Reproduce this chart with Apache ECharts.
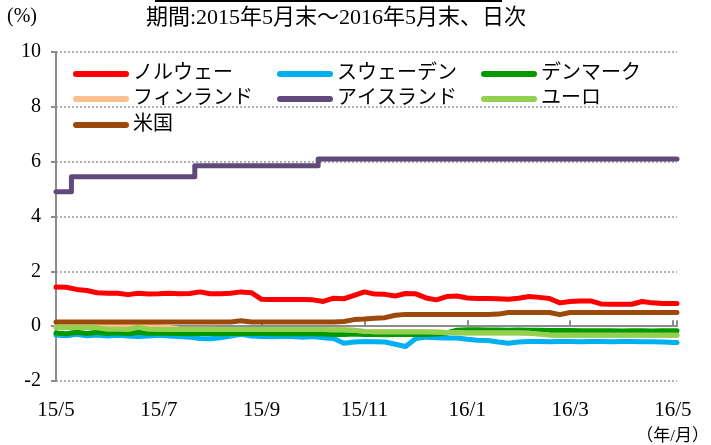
<!DOCTYPE html>
<html><head><meta charset="utf-8">
<script src="https://cdn.jsdelivr.net/npm/echarts@6/dist/echarts.min.js"></script>
<style>html,body{margin:0;padding:0;background:#fff}#c{width:711px;height:445px}</style>
</head><body><div id="c"></div>
<script>
// x positions: months elapsed since end of May 2015
const months = [0,0.2,0.4,0.6,0.8,1,1.2,1.4,1.6,1.8,2,2.2,2.4,2.6,2.8,3,3.2,3.4,3.6,3.8,4,4.2,4.4,4.6,4.8,5,5.2,5.4,5.6,5.8,6,6.2,6.4,6.6,6.8,7,7.2,7.4,7.6,7.8,8,8.2,8.4,8.6,8.8,9,9.2,9.4,9.6,9.8,10,10.2,10.4,10.6,10.8,11,11.2,11.4,11.6,11.8,12,12.08];
const tickLabels = ['15/5','15/7','15/9','15/11','16/1','16/3','16/5'];
const seriesNames = ['ノルウェー','スウェーデン','デンマーク','フィンランド','アイスランド','ユーロ','米国'];

const norway = [1.43,1.42,1.34,1.30,1.22,1.20,1.20,1.15,1.20,1.17,
  1.18,1.20,1.18,1.19,1.25,1.18,1.18,1.20,1.25,1.22,
  0.98,0.97,0.97,0.97,0.97,0.96,0.90,1.02,1.00,1.12,
  1.25,1.17,1.16,1.10,1.19,1.18,1.03,0.96,1.08,1.10,
  1.03,1.01,1.01,1.00,0.98,1.02,1.08,1.05,1.01,0.85,
  0.90,0.92,0.92,0.81,0.80,0.80,0.80,0.90,0.85,0.83,0.83,0.83];
const sweden = [-0.32,-0.35,-0.30,-0.35,-0.32,-0.36,-0.33,-0.36,-0.38,-0.36,
  -0.33,-0.36,-0.38,-0.40,-0.45,-0.46,-0.42,-0.36,-0.30,-0.36,
  -0.38,-0.39,-0.38,-0.38,-0.40,-0.38,-0.42,-0.45,-0.62,-0.58,
  -0.56,-0.57,-0.58,-0.66,-0.74,-0.45,-0.40,-0.42,-0.43,-0.43,
  -0.48,-0.51,-0.52,-0.58,-0.62,-0.58,-0.56,-0.56,-0.57,-0.56,
  -0.56,-0.57,-0.56,-0.56,-0.57,-0.56,-0.56,-0.57,-0.57,-0.58,-0.60,-0.60];
const denmark = [-0.25,-0.28,-0.22,-0.27,-0.22,-0.27,-0.24,-0.28,-0.22,-0.26,
  -0.25,-0.27,-0.26,-0.28,-0.27,-0.26,-0.28,-0.27,-0.26,-0.27,
  -0.27,-0.28,-0.27,-0.28,-0.27,-0.28,-0.29,-0.30,-0.30,-0.29,
  -0.30,-0.30,-0.31,-0.30,-0.30,-0.30,-0.30,-0.29,-0.25,-0.15,
  -0.13,-0.13,-0.14,-0.14,-0.15,-0.14,-0.15,-0.15,-0.16,-0.16,
  -0.16,-0.17,-0.17,-0.17,-0.17,-0.18,-0.17,-0.17,-0.18,-0.17,-0.17,-0.17];
const finland = [-0.03,-0.03,-0.03,-0.03,-0.02,0.00,0.01,0.01,0.00,0.00,
  0.00,-0.05,-0.10,-0.11,-0.11,-0.11,-0.12,-0.12,-0.12,-0.12,
  -0.12,-0.12,-0.12,-0.12,-0.12,-0.12,-0.12,-0.13,-0.13,-0.15,
  -0.19,-0.20,-0.20,-0.20,-0.20,-0.20,-0.20,-0.21,-0.23,-0.24,
  -0.25,-0.25,-0.25,-0.25,-0.25,-0.25,-0.26,-0.29,-0.32,-0.33,
  -0.33,-0.33,-0.33,-0.33,-0.33,-0.33,-0.33,-0.33,-0.33,-0.33,-0.33,-0.33];
const iceland = [4.90,4.90,5.45,5.45,5.45,5.45,5.45,5.45,5.45,5.45,
  5.45,5.45,5.45,5.45,5.85,5.85,5.85,5.85,5.85,5.85,
  5.85,5.85,5.85,5.85,5.85,5.85,6.10,6.10,6.10,6.10,
  6.10,6.10,6.10,6.10,6.10,6.10,6.10,6.10,6.10,6.10,
  6.10,6.10,6.10,6.10,6.10,6.10,6.10,6.10,6.10,6.10,
  6.10,6.10,6.10,6.10,6.10,6.10,6.10,6.10,6.10,6.10,6.10,6.10];
const euro = [-0.05,-0.05,-0.05,-0.05,-0.06,-0.11,-0.11,-0.12,-0.04,-0.11,
  -0.12,-0.12,-0.12,-0.12,-0.12,-0.12,-0.12,-0.12,-0.12,-0.12,
  -0.12,-0.12,-0.12,-0.12,-0.12,-0.12,-0.12,-0.13,-0.13,-0.15,
  -0.19,-0.20,-0.20,-0.20,-0.20,-0.20,-0.20,-0.21,-0.23,-0.24,
  -0.25,-0.25,-0.25,-0.25,-0.25,-0.25,-0.26,-0.29,-0.32,-0.33,
  -0.33,-0.33,-0.33,-0.33,-0.33,-0.33,-0.33,-0.33,-0.33,-0.33,-0.33,-0.33];
const usa = [0.15,0.15,0.15,0.15,0.15,0.15,0.15,0.15,0.15,0.15,
  0.15,0.15,0.15,0.15,0.15,0.15,0.15,0.15,0.20,0.15,
  0.15,0.15,0.15,0.15,0.15,0.15,0.15,0.15,0.17,0.24,
  0.26,0.29,0.31,0.40,0.43,0.43,0.43,0.43,0.43,0.43,
  0.43,0.43,0.43,0.44,0.50,0.50,0.50,0.50,0.50,0.42,
  0.50,0.50,0.50,0.50,0.50,0.50,0.50,0.50,0.50,0.50,0.50,0.50];

const dataSets = [norway, sweden, denmark, finland, iceland, euro, usa];
const colors = ['#FF0000','#00B0F0','#009A00','#FAC090','#604A7B','#92D050','#9C4A0B'];
const FONT = "'Liberation Serif','Noto Sans CJK JP',serif";
const legendPos = [[73,64],[277,64],[481,64],[73,89],[277,89],[481,89],[73,115]];

const chart = echarts.init(document.getElementById('c'), null, {renderer:'canvas'});

const labelFmt = function (v) {
  const k = Math.round(v / 2);
  if (Math.abs(v - 2 * k) < 1e-6 && k >= 0 && k < tickLabels.length) return tickLabels[k];
  return '';
};

const series = seriesNames.map(function (name, i) {
  return {
    type: 'line', name: name,
    data: months.map(function (m, j) { return [m, dataSets[i][j]]; }),
    xAxisIndex: 0, yAxisIndex: 0,
    symbol: 'none', showSymbol: false,
    step: name === 'アイスランド' ? 'middle' : false,
    color: colors[i],
    itemStyle: {color: colors[i]},
    lineStyle: {width: 5, color: colors[i], cap: 'round', join: 'round'},
    animation: false, silent: true, z: 3
  };
});

const legends = seriesNames.map(function (name, i) {
  return {
    data: [name], left: legendPos[i][0], top: legendPos[i][1],
    orient: 'horizontal', padding: 0, selectedMode: false,
    icon: 'path://M3,0H53A3,3,0,0,1,53,6H3A3,3,0,0,1,3,0Z',
    itemWidth: 56, itemHeight: 6, itemGap: 0,
    textStyle: {fontSize: 20, color: '#000', fontFamily: FONT, padding: [0,0,0,-1]}
  };
});

// grid 0: main plot (y from -2 to 10); grid 1: same top, bottom at value 0 -> carries the zero axis line
const gridTop = 52, gridBottom = 64, gridH = 445 - gridTop - gridBottom;
const yMin = -2, yMax = 10;
const zeroFromBottom = gridBottom + gridH * (0 - yMin) / (yMax - yMin);

chart.setOption({
  animation: false,
  backgroundColor: '#fff',
  grid: [
    {left: 56, right: 34, top: gridTop, bottom: gridBottom, containLabel: false},
    {left: 56, right: 34, top: gridTop, bottom: zeroFromBottom, containLabel: false}
  ],
  legend: legends,
  xAxis: [
    {type: 'value', gridIndex: 0, min: 0, max: 12.08, interval: 2, position: 'bottom',
     axisLine: {show: false, onZero: false}, axisTick: {show: false}, splitLine: {show: false},
     axisLabel: {formatter: labelFmt, fontSize: 21, color: '#000', fontFamily: FONT, margin: 19}},
    {type: 'value', gridIndex: 1, min: 0, max: 12.08, interval: 2, position: 'bottom',
     axisLine: {show: true, onZero: false, lineStyle: {color: '#8c8c8c', width: 2}},
     axisTick: {show: true, inside: true, length: 6, lineStyle: {color: '#8c8c8c', width: 2}},
     axisLabel: {show: false}, splitLine: {show: false}, z: 1}
  ],
  yAxis: [
    {type: 'value', gridIndex: 0, min: yMin, max: yMax, interval: 2,
     axisLine: {show: true, onZero: false, lineStyle: {color: '#8c8c8c', width: 2}},
     axisTick: {show: true, length: 5, lineStyle: {color: '#8c8c8c', width: 2}},
     splitLine: {show: true, lineStyle: {color: '#999', type: [2, 2], width: 1.5}},
     axisLabel: {fontSize: 20, color: '#000', fontFamily: FONT, margin: 15}},
    {type: 'value', gridIndex: 1, min: 0, max: yMax, show: false}
  ],
  graphic: [
    {type: 'rect', shape: {x: 155, y: 0, width: 347, height: 2}, style: {fill: '#000'}},
    {type: 'text', left: 7, top: 7, style: {text: '(%)', font: "20px 'Liberation Serif','Noto Sans CJK JP',serif", fill: '#000'}},
    {type: 'text', x: 336, y: 18, style: {text: '期間:2015年5月末～2016年5月末、日次', font: "22px 'Liberation Serif','Noto Sans CJK JP',serif", fill: '#000', align: 'center', verticalAlign: 'middle'}},
    {type: 'text', right: 2, top: 428, style: {text: '（年/月）', font: "17px 'Liberation Serif','Noto Sans CJK JP',serif", fill: '#000'}}
  ],
  series: series
});
</script></body></html>
